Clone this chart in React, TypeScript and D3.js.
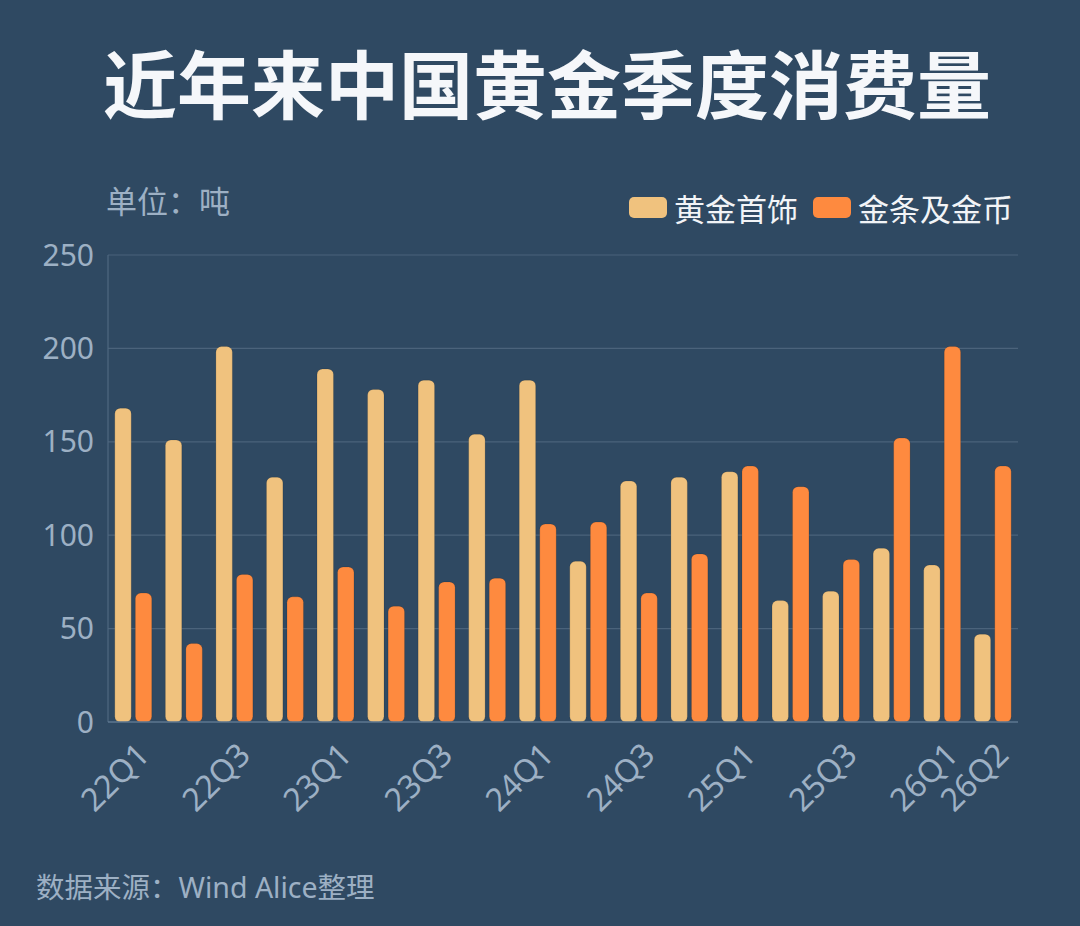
import React from "react";
import * as d3 from "d3";

const quarters = [
  "22Q1", "22Q2", "22Q3", "22Q4",
  "23Q1", "23Q2", "23Q3", "23Q4",
  "24Q1", "24Q2", "24Q3", "24Q4",
  "25Q1", "25Q2", "25Q3", "25Q4",
  "26Q1", "26Q2",
];

const jewelry = [168, 151, 201, 131, 189, 178, 183, 154, 183, 86, 129, 131, 134, 65, 70, 93, 84, 47];
const barsCoins = [69, 42, 79, 67, 83, 62, 75, 77, 106, 107, 69, 90, 137, 126, 87, 152, 201, 137];

const seriesNames = ["黄金首饰", "金条及金币"];
const seriesColors = ["#f0c27e", "#fe8a3f"];
const yTicks = [0, 50, 100, 150, 200, 250];
const shownLabels = ["22Q1", "22Q3", "23Q1", "23Q3", "24Q1", "24Q3", "25Q1", "25Q3", "26Q1", "26Q2"];

const W = 1080;
const H = 926;
const BG = "#2f4962";
const MUTED = "#9db0c4";
const FONT = "'Noto Sans', 'Noto Sans CJK SC', sans-serif";

export default function App() {
  const left = 108;
  const right = 1018;
  const top = 255;
  const bottom = 722;

  const x0 = d3.scaleBand<string>().domain(quarters).range([left, right]).padding(0);
  const bw = x0.bandwidth();
  const groupPad = 6.8;
  const x1 = d3
    .scaleBand<string>()
    .domain(seriesNames)
    .range([groupPad, bw - groupPad])
    .paddingInner(0.2);
  const y = d3.scaleLinear().domain([0, 250]).range([bottom, top]);

  const series = [jewelry, barsCoins];

  return (
    <svg width={W} height={H} style={{ position: "absolute", left: 0, top: 0, display: "block" }}>
      <rect width={W} height={H} fill={BG} />

      {/* Title */}
      <text
        x={547}
        y={113}
        textAnchor="middle"
        fontSize={74}
        fontWeight={700}
        fill="#f5f7fa"
        fontFamily={FONT}
      >
        近年来中国黄金季度消费量
      </text>

      {/* Unit */}
      <text x={106} y={213} fontSize={31} fill={MUTED} fontFamily={FONT}>
        单位：吨
      </text>

      {/* Legend */}
      {seriesNames.map((name, i) => {
        const lx = i === 0 ? 629 : 813;
        return (
          <g key={name}>
            <rect x={lx} y={197} width={38} height={21} rx={5} fill={seriesColors[i]} />
            <text x={lx + 45} y={221} fontSize={31} fill="#f2f4f7" fontFamily={FONT}>
              {name}
            </text>
          </g>
        );
      })}

      {/* Grid */}
      {yTicks.map((t) => (
        <g key={t}>
          {t > 0 && (
            <line x1={left} x2={right} y1={y(t)} y2={y(t)} stroke="#4b637b" strokeWidth={1.2} />
          )}
          <text
            x={94}
            y={y(t)}
            dy="0.35em"
            textAnchor="end"
            fontSize={30}
            fill={MUTED}
            fontFamily={FONT}
          >
            {t}
          </text>
        </g>
      ))}

      {/* Axes */}
      <line x1={left} x2={left} y1={top} y2={bottom} stroke="#4f6880" strokeWidth={1.2} />

      {/* Bars */}
      {quarters.map((q, qi) => (
        <g key={q} transform={`translate(${x0(q)},0)`}>
          {series.map((vals, si) => {
            const v = vals[qi];
            const bx = x1(seriesNames[si]) ?? 0;
            return (
              <rect
                key={si}
                x={bx}
                y={y(v)}
                width={x1.bandwidth()}
                height={bottom - y(v)}
                rx={5.5}
                fill={seriesColors[si]}
                stroke="rgba(0,0,0,0.12)"
                strokeWidth={1}
              />
            );
          })}
        </g>
      ))}

      <line x1={left} x2={right} y1={bottom} y2={bottom} stroke="#5e7791" strokeWidth={1.5} />

      {/* X labels */}
      {shownLabels.map((q) => {
        const cx = (x0(q) ?? 0) + bw / 2;
        return (
          <text
            key={q}
            transform={`translate(${cx + 2},${bottom + 19}) rotate(-45)`}
            textAnchor="end"
            dy="0.7em"
            fontSize={32}
            fill={MUTED}
            fontFamily={FONT}
          >
            {q}
          </text>
        );
      })}

      {/* Source */}
      <text x={36} y={898} fontSize={28.5} fill={MUTED} fontFamily={FONT}>
        数据来源：Wind Alice整理
      </text>
    </svg>
  );
}
